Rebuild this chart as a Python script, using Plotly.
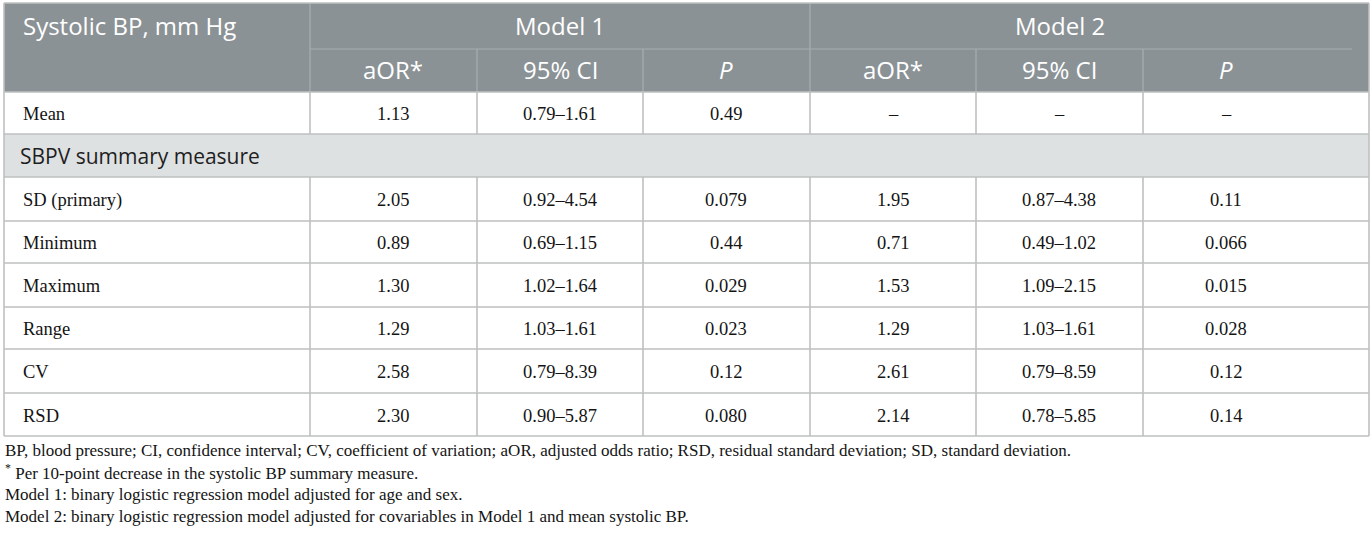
import plotly.graph_objects as go

# ---------------- data ----------------
row_labels = ["Mean", "SD (primary)", "Minimum", "Maximum", "Range", "CV", "RSD"]
m1_aor = ["1.13", "2.05", "0.89", "1.30", "1.29", "2.58", "2.30"]
m1_ci = ["0.79–1.61", "0.92–4.54", "0.69–1.15", "1.02–1.64", "1.03–1.61", "0.79–8.39", "0.90–5.87"]
m1_p = ["0.49", "0.079", "0.44", "0.029", "0.023", "0.12", "0.080"]
m2_aor = ["–", "1.95", "0.71", "1.53", "1.29", "2.61", "2.14"]
m2_ci = ["–", "0.87–4.38", "0.49–1.02", "1.09–2.15", "1.03–1.61", "0.79–8.59", "0.78–5.85"]
m2_p = ["–", "0.11", "0.066", "0.015", "0.028", "0.12", "0.14"]

corner_label = "Systolic BP, mm Hg"
group_labels = ["Model 1", "Model 2"]
sub_labels = ["aOR*", "95% CI", "<i>P</i>"]
section_label = "SBPV summary measure"
footnotes = [
    "BP, blood pressure; CI, confidence interval; CV, coefficient of variation; aOR, adjusted odds ratio; "
    "RSD, residual standard deviation; SD, standard deviation.",
    "<sup>*</sup> Per 10-point decrease in the systolic BP summary measure.",
    "Model 1: binary logistic regression model adjusted for age and sex.",
    "Model 2: binary logistic regression model adjusted for covariables in Model 1 and mean systolic BP.",
]

# ---------------- layout geometry ----------------
W, H = 1372, 540
col_edges = [4, 310, 477, 643, 810, 976, 1143, 1369]
col_w = 166.5
row_edges = [3, 49, 92, 134, 177, 221, 263, 307, 349, 393, 436]

HDR_BG = "rgb(139,146,150)"
HDR_LINE = "rgb(168,173,176)"
GRID = "rgb(190,192,193)"
SEC_BG = "rgb(222,225,226)"
SANS = "Open Sans"
SERIF = "Liberation Serif"
BODY_SIZE = 18.5
FOOT_SIZE = 17

shapes = []
annotations = []


def rect(x0, y0, x1, y1, fill):
    shapes.append(dict(type="rect", xref="x", yref="y", x0=x0, x1=x1, y0=y0, y1=y1,
                       fillcolor=fill, line=dict(width=0), layer="below"))


def line(x0, y0, x1, y1, color, width=1.5):
    shapes.append(dict(type="line", xref="x", yref="y", x0=x0, x1=x1, y0=y0, y1=y1,
                       line=dict(color=color, width=width), layer="above"))


def text(x, y, s, size, color, family, anchor="center"):
    annotations.append(dict(x=x, y=y, xref="x", yref="y", text=s, showarrow=False,
                            xanchor=anchor, yanchor="middle", borderpad=0,
                            font=dict(size=size, color=color, family=family)))


L, R = col_edges[0], col_edges[-1]

# header background
rect(L, row_edges[0], R, row_edges[2], HDR_BG)
# section row background
rect(L, row_edges[3], R, row_edges[4], SEC_BG)

# header inner lines
line(col_edges[1], row_edges[0], col_edges[1], row_edges[2], HDR_LINE, 1.2)
line(col_edges[4], row_edges[0], col_edges[4], row_edges[2], HDR_LINE, 1.2)
line(col_edges[1], row_edges[1], 1352, row_edges[1], HDR_LINE, 1.2)
for c in [2, 3, 5, 6]:
    line(col_edges[c], row_edges[1], col_edges[c], row_edges[2], HDR_LINE, 1.2)

# body grid: horizontal lines
for r in range(2, len(row_edges)):
    line(L, row_edges[r], R, row_edges[r], GRID, 1.6)
# outer verticals for body
line(L, row_edges[2], L, row_edges[-1], GRID, 1.6)
line(R, row_edges[2], R, row_edges[-1], GRID, 1.6)
# inner verticals (skip section row)
data_rows = [2] + list(range(4, len(row_edges) - 1))
for r in data_rows:
    for c in range(1, len(col_edges) - 1):
        line(col_edges[c], row_edges[r], col_edges[c], row_edges[r + 1], GRID, 1.6)
# top border
line(L, row_edges[0], R, row_edges[0], GRID, 1.6)
line(L, row_edges[0], L, row_edges[2], GRID, 1.6)
line(R, row_edges[0], R, row_edges[2], GRID, 1.6)

# header text
ymid = lambda r: (row_edges[r] + row_edges[r + 1]) / 2
text(22, ymid(0) - 1, corner_label, 24, "white", SANS, "left")
for g, lab in enumerate(group_labels):
    x0 = col_edges[1 + 3 * g]
    text(x0 + 1.5 * col_w, ymid(0) - 1, lab, 24, "white", SANS)
for g in range(2):
    for k, lab in enumerate(sub_labels):
        x0 = col_edges[1 + 3 * g + k]
        text(x0 + col_w / 2, ymid(1) - 1, lab, 24, "white", SANS)

# section label
text(19, ymid(3), section_label, 21, "rgb(30,30,30)", SANS, "left")

# body rows
cols = [m1_aor, m1_ci, m1_p, m2_aor, m2_ci, m2_p]
body_rows = [2] + list(range(4, len(row_edges) - 1))
for i, r in enumerate(body_rows):
    text(22, ymid(r) + 1, row_labels[i], BODY_SIZE, "rgb(20,20,20)", SERIF, "left")
    for c, arr in enumerate(cols):
        x0 = col_edges[1 + c]
        text(x0 + col_w / 2, ymid(r) + 1, arr[i], BODY_SIZE, "rgb(20,20,20)", SERIF)

# footnotes
for j, fn in enumerate(footnotes):
    text(4, 450 + 22 * j, fn, FOOT_SIZE, "rgb(20,20,20)", SERIF, "left")

fig = go.Figure()
fig.update_layout(
    width=W, height=H, margin=dict(l=0, r=0, t=0, b=0),
    paper_bgcolor="white", plot_bgcolor="white",
    xaxis=dict(range=[0, W], visible=False, fixedrange=True),
    yaxis=dict(range=[H, 0], visible=False, fixedrange=True),
    shapes=shapes, annotations=annotations, showlegend=False,
)
fig.write_html("out.html", config={"displayModeBar": False},
               post_script="document.body.style.margin='0';")
